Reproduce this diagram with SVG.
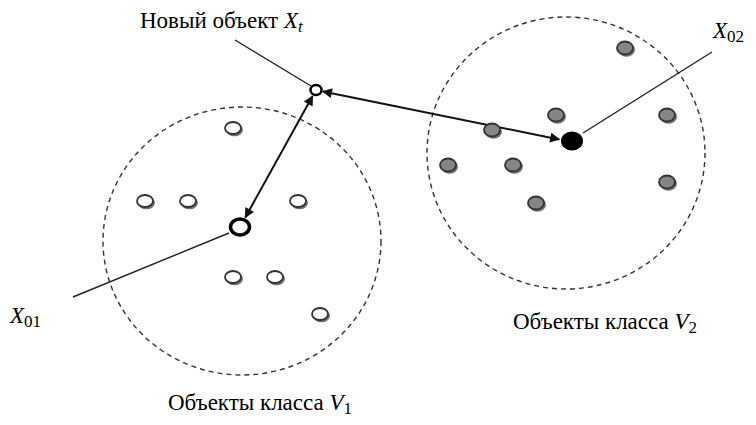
<svg xmlns="http://www.w3.org/2000/svg" width="756" height="425" viewBox="0 0 756 425">
<defs>
<style>
.bound{fill:none;stroke:#333;stroke-width:1.4;stroke-dasharray:5 4}
.lead{stroke:#222;stroke-width:1.4;fill:none}
.arr{stroke:#111;stroke-width:2;fill:none;marker-start:url(#ah);marker-end:url(#ah)}
.w{fill:#fff;stroke:#333;stroke-width:1.8}
.g{fill:#858585;stroke:#333;stroke-width:1.8}
.sh{fill:#444;opacity:0.75}
text{font-family:"Liberation Serif","Times New Roman",serif;font-size:23px;fill:#000}
.it{font-style:italic}
.sub{font-size:17px}
</style>
<marker id="ah" viewBox="0 0 10 10" refX="9" refY="5" markerWidth="13" markerHeight="10" markerUnits="userSpaceOnUse" orient="auto-start-reverse">
<path d="M0,0 L10,5 L0,10 Z" fill="#111"/>
</marker>
</defs>
<rect width="756" height="425" fill="#fff"/>
<g id="class-V1">
<ellipse class="bound" cx="242" cy="241" rx="139" ry="134"/>
</g>
<g id="class-V2">
<ellipse class="bound" cx="566" cy="153" rx="139" ry="136"/>
</g>
<g id="connectors">
<line class="lead" x1="235" y1="40" x2="311" y2="86"/>
<line class="lead" x1="583" y1="133" x2="712" y2="52"/>
<line class="lead" x1="73" y1="297" x2="229" y2="233"/>
<line class="arr" x1="312.6" y1="96.1" x2="245.3" y2="217.4"/>
<line class="arr" x1="322.9" y1="91.4" x2="559.2" y2="139.4"/>
</g>
<g id="V1-objects">
<g transform="translate(233,128)"><ellipse class="sh" cx="1.5" cy="1.8" rx="8.5" ry="6.5"/><ellipse class="w" rx="8" ry="6"/></g>
<g transform="translate(145,201)"><ellipse class="sh" cx="1.5" cy="1.8" rx="8.5" ry="6.5"/><ellipse class="w" rx="8" ry="6"/></g>
<g transform="translate(188,201)"><ellipse class="sh" cx="1.5" cy="1.8" rx="8.5" ry="6.5"/><ellipse class="w" rx="8" ry="6"/></g>
<g transform="translate(298,201)"><ellipse class="sh" cx="1.5" cy="1.8" rx="8.5" ry="6.5"/><ellipse class="w" rx="8" ry="6"/></g>
<g transform="translate(233,277)"><ellipse class="sh" cx="1.5" cy="1.8" rx="8.5" ry="6.5"/><ellipse class="w" rx="8" ry="6"/></g>
<g transform="translate(275,277)"><ellipse class="sh" cx="1.5" cy="1.8" rx="8.5" ry="6.5"/><ellipse class="w" rx="8" ry="6"/></g>
<g transform="translate(320,314)"><ellipse class="sh" cx="1.5" cy="1.8" rx="8.5" ry="6.5"/><ellipse class="w" rx="8" ry="6"/></g>
</g>
<g id="V2-objects">
<g transform="translate(625,48)"><ellipse class="sh" cx="1.5" cy="1.8" rx="8.5" ry="7"/><ellipse class="g" rx="8" ry="6.5"/></g>
<g transform="translate(556,115)"><ellipse class="sh" cx="1.5" cy="1.8" rx="8.5" ry="7"/><ellipse class="g" rx="8" ry="6.5"/></g>
<g transform="translate(492,130)"><ellipse class="sh" cx="1.5" cy="1.8" rx="8.5" ry="7"/><ellipse class="g" rx="8" ry="6.5"/></g>
<g transform="translate(667,115)"><ellipse class="sh" cx="1.5" cy="1.8" rx="8.5" ry="7"/><ellipse class="g" rx="8" ry="6.5"/></g>
<g transform="translate(448,165)"><ellipse class="sh" cx="1.5" cy="1.8" rx="8.5" ry="7"/><ellipse class="g" rx="8" ry="6.5"/></g>
<g transform="translate(513,165)"><ellipse class="sh" cx="1.5" cy="1.8" rx="8.5" ry="7"/><ellipse class="g" rx="8" ry="6.5"/></g>
<g transform="translate(667,182)"><ellipse class="sh" cx="1.5" cy="1.8" rx="8.5" ry="7"/><ellipse class="g" rx="8" ry="6.5"/></g>
<g transform="translate(536,203)"><ellipse class="sh" cx="1.5" cy="1.8" rx="8.5" ry="7"/><ellipse class="g" rx="8" ry="6.5"/></g>
</g>
<g id="X01">
<ellipse cx="240" cy="227" rx="9.5" ry="8" fill="#fff" stroke="#000" stroke-width="3.5"/>
<text x="10" y="323"><tspan class="it">X</tspan><tspan class="sub" dy="4">01</tspan></text>
</g>
<g id="X02">
<ellipse cx="572" cy="141" rx="11" ry="9.5" fill="#000"/>
<text x="713" y="38"><tspan class="it">X</tspan><tspan class="sub" dy="4">02</tspan></text>
</g>
<g id="Xt">
<ellipse cx="316" cy="90" rx="5.5" ry="5" fill="#fff" stroke="#000" stroke-width="2.5"/>
<text x="140" y="28">Новый объект <tspan class="it">X</tspan><tspan class="it sub" dy="4">t</tspan></text>
</g>
<g id="labels">
<text x="513" y="329">Объекты класса <tspan class="it">V</tspan><tspan class="sub" dy="4">2</tspan></text>
<text x="168" y="410">Объекты класса <tspan class="it">V</tspan><tspan class="sub" dy="4">1</tspan></text>
</g>
</svg>
